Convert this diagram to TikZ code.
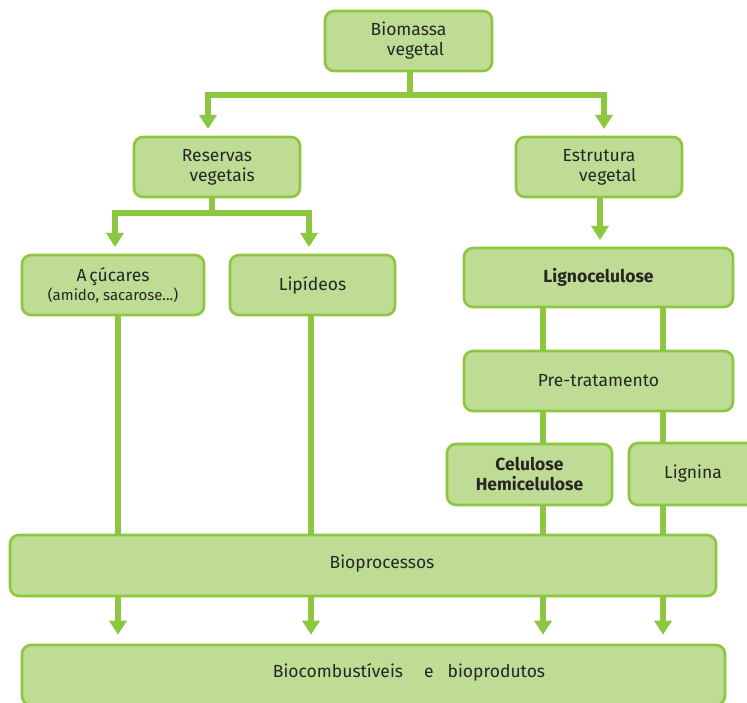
\documentclass[tikz,border=0pt]{standalone}
\usepackage{fontspec}
\setmainfont{Fira Sans}
\usepackage{xcolor}
\usepackage{tikz}
\usetikzlibrary{arrows.meta, positioning}

\definecolor{verde}{HTML}{8DC63F}
\definecolor{verdeclaro}{HTML}{BEDC94}

\begin{document}
\begin{tikzpicture}[x=1pt, y=-1pt,
    caixa/.style={draw=verde, fill=verdeclaro, line width=2.6pt, rounded corners=9pt,
        align=center, inner sep=0pt, font=\fontsize{17.5}{20}\selectfont, text=black!85},
    liga/.style={draw=verde, line width=5.5pt},
    seta/.style={liga, -{Triangle[width=17pt, length=14pt]}}]
    \useasboundingbox (0,0) rectangle (747,703);

    % Caixas
    \node[caixa, minimum width=167pt, minimum height=60pt] (biomassa) at (408.5,41) {Biomassa\\ \hspace*{0.8em}vegetal};
    \node[caixa, minimum width=166pt, minimum height=60pt] (reservas) at (217,167) {Reservas\\ \hspace*{0.6em}vegetais};
    \node[caixa, minimum width=166pt, minimum height=60pt] (estrutura) at (599,167) {Estrutura\\ \hspace*{1em}vegetal};
    \node[caixa, minimum width=182pt, minimum height=60pt] (acucares) at (113,285)
        {A\,çúcares\\[-1pt] {\fontsize{15}{17}\selectfont (amido, sacarose...)}};
    \node[caixa, minimum width=165pt, minimum height=60pt] (lipideos) at (312.5,285) {Lipídeos};
    \node[caixa, minimum width=269pt, minimum height=59pt] (ligno) at (598.5,277.5) {\bfseries Lignocelulose};
    \node[caixa, minimum width=269pt, minimum height=60pt] (pretrat) at (598.5,381) {Pre-tratamento};
    \node[caixa, minimum width=165pt, minimum height=61pt] (celulose) at (529.5,474.5)
        {\bfseries Celulose\\ \bfseries Hemicelulose};
    \node[caixa, minimum width=128pt, minimum height=62pt] (lignina) at (693,474) {Lignina};
    \node[caixa, minimum width=706pt, minimum height=61pt] (bioproc) at (363,565.5) {};
    \node[caixa, draw=none, fill=none] (tbioproc) at (382,564) {Bioprocessos};
    \node[caixa, minimum width=703pt, minimum height=60pt] (biocomb) at (373.5,675) {};
    \node[caixa, draw=none, fill=none] (tbiocomb) at (409,672) {Biocombustíveis\hspace{1.2em}e\hspace{0.8em}bioprodutos};

    % Pontos auxiliares
    \coordinate (j1) at (410,95);
    \coordinate (p1) at (208,129);
    \coordinate (p2) at (604,129);
    \coordinate (j2) at (212,213);
    \coordinate (p3) at (115,247);
    \coordinate (p4) at (309,247);
    \coordinate (p5) at (600,240);
    \coordinate (c1) at (118,0);
    \coordinate (c2) at (311,0);
    \coordinate (c3) at (543,0);
    \coordinate (c4) at (663,0);

    % Ligacoes
    \draw[liga] (biomassa.south -| j1) -- (j1);
    \draw[seta] (j1) -| (p1);
    \draw[seta] (j1) -| (p2);
    \draw[liga] (reservas.south -| j2) -- (j2);
    \draw[seta] (j2) -| (p3);
    \draw[seta] (j2) -| (p4);
    \draw[seta] (estrutura.south -| p5) -- (p5);

    \draw[liga] (ligno.south -| c3) -- (pretrat.north -| c3);
    \draw[liga] (ligno.south -| c4) -- (pretrat.north -| c4);
    \draw[liga] (pretrat.south -| c3) -- (celulose.north -| c3);
    \draw[liga] (pretrat.south -| c4) -- (lignina.north -| c4);

    \draw[liga] (acucares.south -| c1) -- (bioproc.north -| c1);
    \draw[liga] (lipideos.south -| c2) -- (bioproc.north -| c2);
    \draw[liga] (celulose.south -| c3) -- (bioproc.north -| c3);
    \draw[liga] (lignina.south -| c4) -- (bioproc.north -| c4);

    \foreach \c in {c1, c2, c3, c4}
        \draw[seta, shorten >=9pt] (bioproc.south -| \c) -- (biocomb.north -| \c);
\end{tikzpicture}
\end{document}
